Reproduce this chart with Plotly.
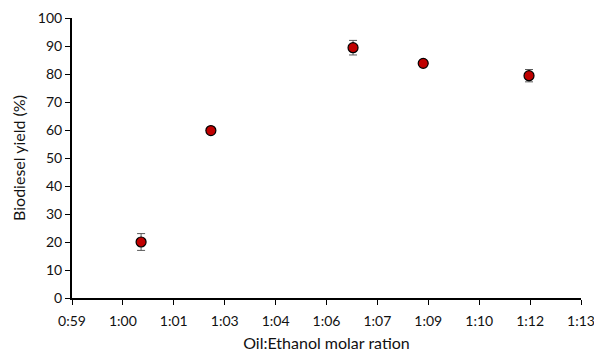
import plotly.graph_objects as go

# Data (x in minutes, as the time-formatted axis shows)
x_vals = [60.9, 62.82, 66.73, 68.66, 71.57]
yield_vals = [20.0, 59.8, 89.4, 83.8, 79.4]
yield_err = [3.0, 0.6, 2.6, 0.6, 2.2]
tick_vals = [round(59 + 1.4 * i, 6) for i in range(11)]
tick_text = ["0:59", "1:00", "1:01", "1:03", "1:04", "1:06", "1:07", "1:09", "1:10", "1:12", "1:13"]

FONT = "Lato, 'Open Sans', sans-serif"

fig = go.Figure()
fig.add_trace(go.Scatter(
    x=x_vals, y=yield_vals, mode="markers",
    marker=dict(size=10, color="#C00000", line=dict(color="black", width=1.2)),
    error_y=dict(type="data", array=yield_err, visible=True, color="#595959", thickness=1, width=4),
    showlegend=False,
))

fig.update_layout(
    width=594, height=352,
    margin=dict(l=72, r=13, t=18, b=54),
    paper_bgcolor="white", plot_bgcolor="white",
    font=dict(family=FONT, size=14, color="#111111"),
    xaxis=dict(
        range=[59, 73.0001], tickvals=tick_vals, ticktext=tick_text,
        showgrid=False, zeroline=False, automargin=False,
        showline=True, linecolor="black", linewidth=2,
        ticks="outside", ticklen=5, tickcolor="black", tickwidth=1,
        ticklabelstandoff=4, ticklabeloverflow="allow",
        title=dict(text="Oil:Ethanol molar ration", standoff=13, font=dict(size=16)),
        tickfont=dict(size=14),
    ),
    yaxis=dict(
        range=[0, 100], dtick=10,
        showgrid=False, zeroline=False, automargin=False,
        showline=True, linecolor="black", linewidth=2,
        ticks="outside", ticklen=5, tickcolor="black", tickwidth=1,
        title=dict(text="Biodiesel yield (%)", standoff=8, font=dict(size=16)),
        tickfont=dict(size=14),
    ),
)

fig.write_html("out.html")
